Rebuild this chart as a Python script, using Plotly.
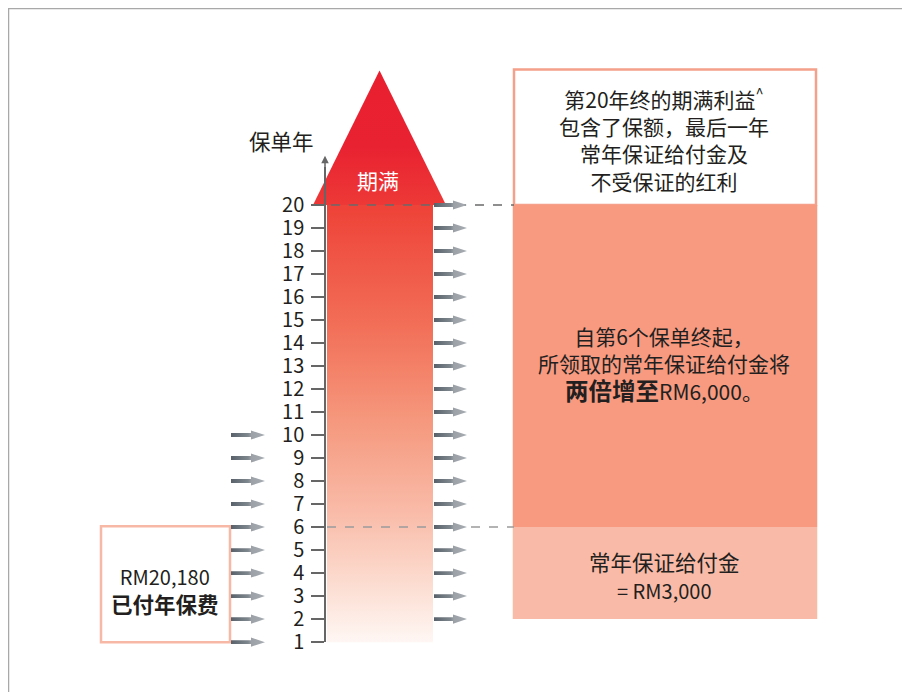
import plotly.graph_objects as go

# ---------------- data ----------------
policy_years = list(range(1, 21))          # tick labels on the policy-year axis
premium_years = list(range(1, 11))         # years in which a premium is paid (left arrows)
payout_years = list(range(2, 21))          # years in which a payout is received (right arrows)
payout_phase_start = [2, 6]                # first policy year of each payout phase
payout_phase_end = [6, 20]                 # last policy year of each payout phase
payout_amounts = [3000, 6000]              # annual guaranteed payout in each phase (RM)
total_premium = 20180                      # total premium paid (RM)
maturity_year = 20

# ---------------- geometry / styles ----------------
W, H = 910, 697
OFF = 8                                     # page margin of the browser body
SY = H / (H + 2 * OFF)                      # vertical squeeze of the photographed page
OY = OFF * SY
IMG_Y1, IMG_Y20 = 639.5, 204.0              # picture rows of years 1 and 20
P1 = (IMG_Y1 - OY) / SY                     # paper rows
P20 = (IMG_Y20 - OY) / SY
PPY = (P1 - P20) / (maturity_year - 1)      # paper pixels per policy year


def prow(img_px):
    return (img_px - OY) / SY


def yr(img_px):
    """picture row -> policy-year units of the hidden y axis"""
    return 1 + (P1 - prow(img_px)) / PPY


FONT = "Noto Sans CJK SC"
TXT = "#231f20"
COL_X0, COL_X1 = 327, 433          # gradient column
TRI_X0, TRI_X1 = 313, 446          # maturity arrow head
TRI_TOP = yr(70)
BOX_X0, BOX_X1 = 514, 816          # right boxes
LBOX_X0, LBOX_X1 = 101, 230        # left premium box
AX_X = 325                          # policy-year axis position (screen x)
AX_TOP = 166                        # picture row where axis line ends

fig = go.Figure()

# gradient column (years 1 .. maturity)
fig.add_trace(go.Scatter(
    x=[COL_X0, COL_X1, COL_X1, COL_X0, COL_X0],
    y=[policy_years[0], policy_years[0], maturity_year, maturity_year, policy_years[0]],
    mode="none", fill="toself", hoverinfo="skip", showlegend=False,
    fillgradient=dict(type="vertical", start=policy_years[0], stop=maturity_year,
                      colorscale=[[0, "#fffcfb"], [0.16, "#fcdcd0"], [0.32, "#f9bba8"],
                                  [0.53, "#f5977c"], [0.74, "#f26e57"], [1, "#ee4338"]]),
))

# maturity arrow head (triangle)
fig.add_trace(go.Scatter(
    x=[TRI_X0, (TRI_X0 + TRI_X1) / 2, TRI_X1, TRI_X0],
    y=[maturity_year, TRI_TOP, maturity_year, maturity_year],
    mode="none", fill="toself", hoverinfo="skip", showlegend=False,
    fillgradient=dict(type="vertical", start=maturity_year, stop=TRI_TOP,
                      colorscale=[[0, "#ed3a37"], [0.45, "#e92231"], [1, "#e81f2f"]]),
))

# dashed guide lines at phase change and maturity
fig.add_trace(go.Scatter(x=[TRI_X0, BOX_X0], y=[maturity_year, maturity_year], mode="lines",
                         line=dict(color="#6a6a6a", width=1.5, dash="dash"),
                         hoverinfo="skip", showlegend=False))
fig.add_trace(go.Scatter(x=[COL_X0, BOX_X0], y=[payout_phase_start[1]] * 2, mode="lines",
                         line=dict(color="#9a9a9a", width=1.5, dash="dash"),
                         hoverinfo="skip", showlegend=False))


def arrow_polys(years, x0, x1, head_len=14, shaft_half=2.0, head_half=4.6):
    xs, ys = [], []
    xh = x1 - head_len
    s, h = shaft_half / PPY, head_half / PPY
    for y in years:
        xs += [x0, xh, xh, x1, xh, xh, x0, x0, None]
        ys += [y - s, y - s, y - h, y, y + h, y + s, y + s, y - s, None]
    return xs, ys


ARROW_SCALE = [[0, "#58616a"], [0.5, "#7f878e"], [0.6, "#9ba1a7"], [1, "#a6acb1"]]
for yrs, x0, x1 in [(payout_years, 434, 467), (premium_years, 231, 265)]:
    ax_, ay_ = arrow_polys(yrs, x0, x1)
    fig.add_trace(go.Scatter(
        x=ax_, y=ay_, mode="none", fill="toself", hoverinfo="skip", showlegend=False,
        fillgradient=dict(type="horizontal", start=x0, stop=x1, colorscale=ARROW_SCALE),
    ))

# dummy trace to show the visible policy-year axis
fig.add_trace(go.Scatter(x=[AX_X], y=[policy_years[0]], yaxis="y2", mode="markers",
                         marker=dict(opacity=0), hoverinfo="skip", showlegend=False))

# ---------------- boxes ----------------
shapes = []
shapes.append(dict(type="rect", xref="x", yref="y", x0=BOX_X0, x1=BOX_X1,
                   y0=maturity_year, y1=yr(69),
                   fillcolor="white", line=dict(color="#f5a08a", width=2.5), layer="below"))
phase_fill = ["#f9bba8", "#f79a80"]
for s0, s1, c in zip(payout_phase_start, payout_phase_end, phase_fill):
    shapes.append(dict(type="rect", xref="x", yref="y", x0=BOX_X0 - 1.25, x1=BOX_X1 + 1.25,
                       y0=s0, y1=s1, fillcolor=c, line=dict(width=0), layer="below"))
shapes.append(dict(type="rect", xref="x", yref="y", x0=LBOX_X0, x1=LBOX_X1,
                   y0=premium_years[0], y1=yr(524),
                   fillcolor="white", line=dict(color="#f7b8a5", width=2.5), layer="below"))
# outer frame (top and left)
shapes.append(dict(type="line", xref="paper", yref="paper", x0=0, x1=1,
                   y0=1, y1=1, line=dict(color="#a8a8a8", width=2.5)))
shapes.append(dict(type="line", xref="paper", yref="paper", x0=0, x1=0,
                   y0=0, y1=1, line=dict(color="#a8a8a8", width=2.5)))

# ---------------- text ----------------
ann = []


def text(x, y, t, size=21, color=TXT):
    ann.append(dict(x=x, y=y, xref="x", yref="y", text=t, showarrow=False,
                    font=dict(family=FONT, size=size, color=color), align="center",
                    xanchor="center", yanchor="middle"))


text(281, yr(140), "保单年", 21.5)
text(378, yr(179), "期满", 21, "white")
text(664, yr(138.5),
     f"第{maturity_year}年终的期满利益<sup>^</sup><br>包含了保额，最后一年<br>常年保证给付金及<br>不受保证的红利", 21)
text(664, yr(362),
     f"自第{payout_phase_start[1]}个保单终起，<br>所领取的常年保证给付金将<br>"
     f"<span style='font-size:23.5px'><b>两倍增至</b></span>RM{payout_amounts[1]:,}。", 21)
text(664, yr(573),
     f"常年保证给付金<br><span style='font-size:20px'>= RM{payout_amounts[0]:,}</span>", 21.5)
text(165, yr(588),
     f"<span style='font-size:20px'>RM{total_premium:,}</span><br><b>已付年保费</b>", 21.5)

# axis arrow head
ann.append(dict(x=AX_X, y=yr(155), ax=AX_X, ay=yr(AX_TOP + 4), xref="x", yref="y",
                axref="x", ayref="y", text="", showarrow=True, arrowhead=2, arrowsize=1,
                arrowwidth=1.5, arrowcolor="#666666"))

fig.update_layout(
    width=W, height=H, margin=dict(l=0, r=0, t=0, b=0),
    paper_bgcolor="white", plot_bgcolor="rgba(0,0,0,0)",
    showlegend=False, hovermode=False,
    xaxis=dict(range=[OFF, W + OFF], domain=[0, 1], visible=False, fixedrange=True),
    yaxis=dict(range=[1 - (H - P1) / PPY, 1 + P1 / PPY], domain=[0, 1], visible=False,
               fixedrange=True),
    yaxis2=dict(anchor="free", position=(AX_X - OFF) / W, side="left",
                domain=[(H - P1) / H, (H - prow(AX_TOP)) / H],
                range=[policy_years[0], yr(AX_TOP)],
                tickmode="array", tickvals=policy_years, ticktext=[str(v) for v in policy_years],
                ticks="outside", ticklen=13, tickwidth=1.5, tickcolor="#666666",
                showline=True, linecolor="#666666", linewidth=1.5,
                showgrid=False, zeroline=False, fixedrange=True,
                tickfont=dict(family=FONT, size=20, color=TXT), ticklabelstandoff=3),
    shapes=shapes, annotations=ann,
)

fig.write_html("out.html")
